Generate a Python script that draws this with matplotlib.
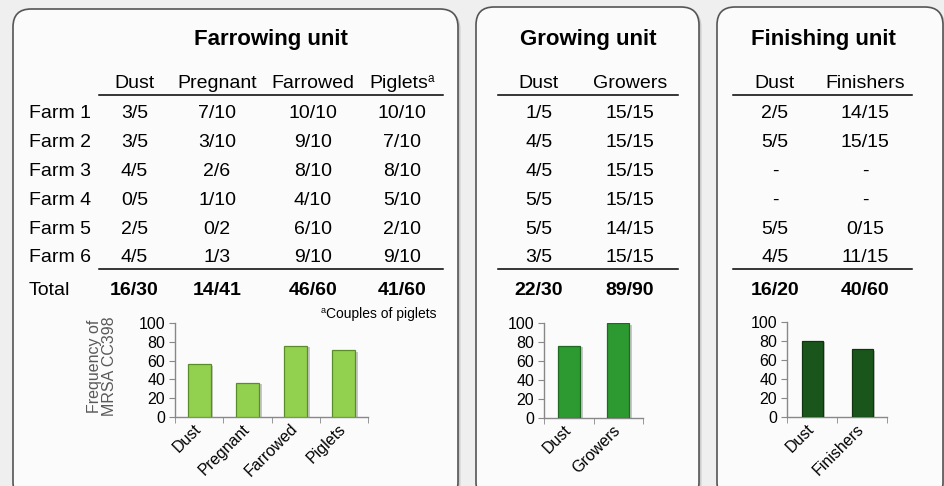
import numpy as np
import matplotlib
matplotlib.use('Agg')
import matplotlib.pyplot as plt
from matplotlib.patches import FancyBboxPatch
import matplotlib.patheffects as pe

plt.rcParams['font.family'] = ['Liberation Sans', 'DejaVu Sans']

# table data
farms = ['Farm 1', 'Farm 2', 'Farm 3', 'Farm 4', 'Farm 5', 'Farm 6']
farrow_cols = ['Dust', 'Pregnant', 'Farrowed', 'Piglets']
farrow_dust = ['3/5', '3/5', '4/5', '0/5', '2/5', '4/5']
farrow_pregnant = ['7/10', '3/10', '2/6', '1/10', '0/2', '1/3']
farrow_farrowed = ['10/10', '9/10', '8/10', '4/10', '6/10', '9/10']
farrow_piglets = ['10/10', '7/10', '8/10', '5/10', '2/10', '9/10']
farrow_total = ['16/30', '14/41', '46/60', '41/60']

grow_cols = ['Dust', 'Growers']
grow_dust = ['1/5', '4/5', '4/5', '5/5', '5/5', '3/5']
grow_growers = ['15/15', '15/15', '15/15', '15/15', '14/15', '15/15']
grow_total = ['22/30', '89/90']

finish_cols = ['Dust', 'Finishers']
finish_dust = ['2/5', '5/5', '-', '-', '5/5', '4/5']
finish_finishers = ['14/15', '15/15', '-', '-', '0/15', '11/15']
finish_total = ['16/20', '40/60']

# bar chart data (frequency of MRSA CC398, %)
farrow_freq = [56, 36, 76, 71]
grow_freq = [76, 100]
finish_freq = [80, 71]

W, H = 944, 486
fig = plt.figure(figsize=(W / 100, H / 100), dpi=100)
fig.patch.set_facecolor('#efefef')

base = fig.add_axes([0, 0, 1, 1])
base.set_xlim(0, W)
base.set_ylim(H, 0)
base.axis('off')

# panels
for (x0, y0, x1, y1) in [(13, 9, 458, 500), (476, 7, 699, 500), (717, 7, 943, 500)]:
    sh = FancyBboxPatch((x0 + 2.5, y0 + 2), x1 - x0, y1 - y0,
                        boxstyle='round,pad=0,rounding_size=18',
                        fc='#b5b5b5', ec='none', alpha=0.6, zorder=1)
    base.add_patch(sh)
    p = FancyBboxPatch((x0, y0), x1 - x0, y1 - y0,
                       boxstyle='round,pad=0,rounding_size=18',
                       fc='#fbfbfb', ec='#555555', lw=1.2, zorder=2)
    base.add_patch(p)

fs = 14
row_y = [118.3, 147, 176, 205, 233.5, 262]
head_y = 87.5
total_y = 295
title_y = 44.5


def draw_table(title, title_x, cols, col_x, data, totals, line_x):
    base.text(title_x, title_y, title, fontsize=16, fontweight='bold',
              ha='center', va='baseline', zorder=5)
    for c, x in zip(cols, col_x):
        if c == 'Piglets':
            base.text(x + 26, head_y, c, fontsize=fs, ha='right', va='baseline', zorder=5)
            base.text(x + 25.5, head_y - 6, 'a', fontsize=8.5, ha='left', va='baseline', zorder=5)
        else:
            base.text(x, head_y, c, fontsize=fs, ha='center', va='baseline', zorder=5)
    for vals, x in zip(data, col_x):
        for v, y in zip(vals, row_y):
            base.text(x, y, v, fontsize=fs, ha='center', va='baseline', zorder=5)
    for v, x in zip(totals, col_x):
        base.text(x, total_y, v, fontsize=fs, fontweight='bold',
                  ha='center', va='baseline', zorder=5)
    base.plot(line_x, [95, 95], color='black', lw=1.1, zorder=5)
    base.plot(line_x, [268.5, 268.5], color='black', lw=1.1, zorder=5)


draw_table('Farrowing unit', 271, farrow_cols, [134.5, 217, 313, 402],
           [farrow_dust, farrow_pregnant, farrow_farrowed, farrow_piglets],
           farrow_total, [99, 443])
for f, y in zip(farms, row_y):
    base.text(29, y, f, fontsize=fs, ha='left', va='baseline', zorder=5)
base.text(29, total_y, 'Total', fontsize=fs, ha='left', va='baseline', zorder=5)
base.text(437, 317.5, 'Couples of piglets', fontsize=10, ha='right', va='baseline', zorder=5)
base.text(326, 312.5, 'a', fontsize=6.5, ha='right', va='baseline', zorder=5)

draw_table('Growing unit', 588, grow_cols, [539, 630],
           [grow_dust, grow_growers], grow_total, [498, 678])
draw_table('Finishing unit', 823, finish_cols, [775, 865],
           [finish_dust, finish_finishers], finish_total, [733, 912])

base.text(101.5, 366, 'Frequency of\nMRSA CC398', fontsize=11.5, color='#595959',
          rotation=90, ha='center', va='center', linespacing=1.0, zorder=5)


def bar_axes(l, t, r, b, labels, vals, fc, ec, width):
    ax = fig.add_axes([l / W, 1 - b / H, (r - l) / W, (b - t) / H])
    ax.set_facecolor('none')
    x = np.arange(len(vals))
    bars = ax.bar(x, vals, width=width, color=fc, edgecolor=ec, lw=0.9, zorder=3)
    for bb in bars:
        bb.set_path_effects([pe.SimplePatchShadow(offset=(2, -1), shadow_rgbFace='#888888', alpha=0.45),
                             pe.Normal()])
    ax.set_xlim(-0.5, len(vals) - 0.5)
    ax.set_ylim(0, 100)
    ax.set_yticks(range(0, 101, 20))
    ax.set_xticks(x)
    ax.set_xticklabels(labels, rotation=45, ha='right', va='center',
                       rotation_mode='anchor', fontsize=11.5)
    ax.set_xticks(np.arange(-0.5, len(vals)), minor=True)
    ax.tick_params(axis='x', which='major', length=0, pad=7)
    ax.tick_params(axis='x', which='minor', length=4, color='#888888', direction='out')
    ax.tick_params(axis='y', length=4, color='#888888', labelsize=11.5, pad=3)
    for s in ['top', 'right']:
        ax.spines[s].set_visible(False)
    for s in ['left', 'bottom']:
        ax.spines[s].set_color('#888888')
        ax.spines[s].set_linewidth(1.0)
    return ax


bar_axes(175, 323.3, 368, 416.7, farrow_cols, farrow_freq, '#92d050', '#5b8c2a', 0.48)
bar_axes(544, 323.3, 643, 418.3, grow_cols, grow_freq, '#2c9a30', '#1d6a20', 0.45)
bar_axes(787, 321.7, 887, 416.7, finish_cols, finish_freq, '#1a561b', '#0e3510', 0.42)

fig.savefig('out.png', dpi=100, facecolor=fig.get_facecolor())
